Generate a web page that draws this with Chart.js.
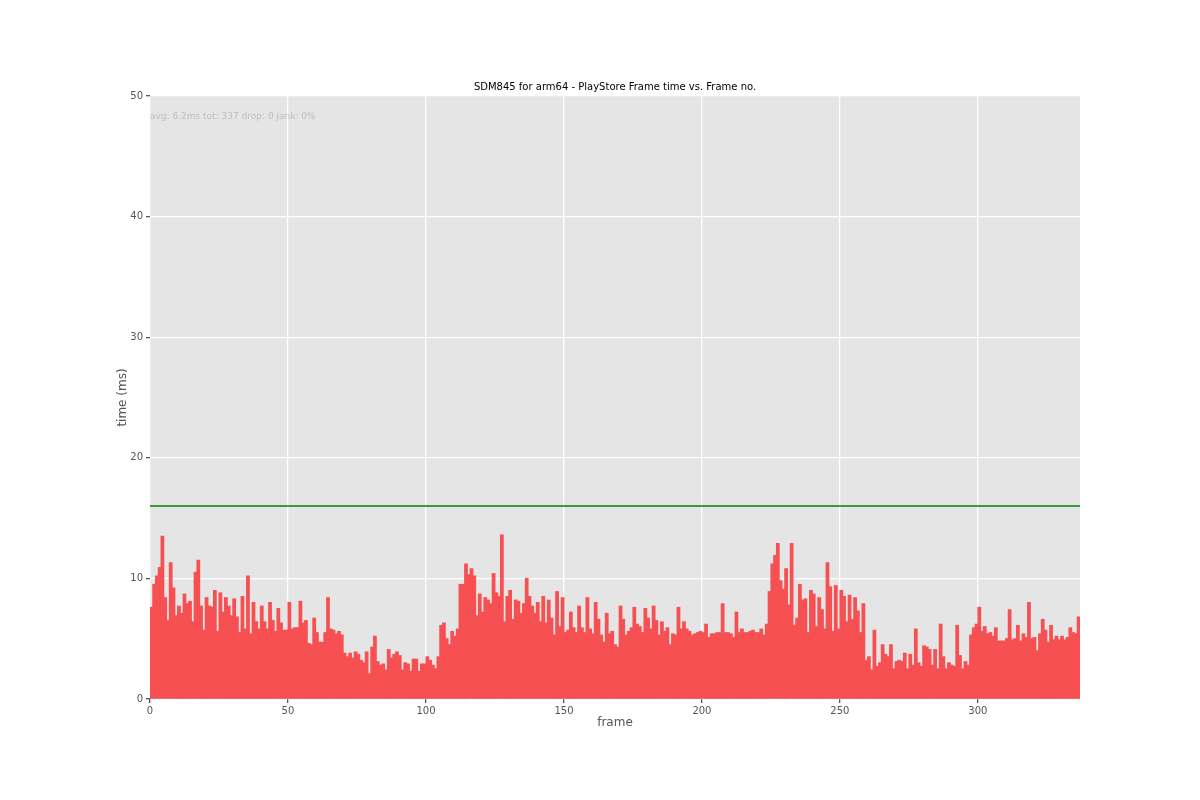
<!DOCTYPE html>
<html>
<head>
<meta charset="utf-8">
<title>SDM845 for arm64 - PlayStore Frame time vs. Frame no.</title>
<script src="https://cdn.jsdelivr.net/npm/chart.js@4.4.1/dist/chart.umd.min.js"></script>
<style>
  html, body { margin: 0; padding: 0; background: #fff; }
  #wrap { width: 1200px; height: 800px; }
</style>
</head>
<body>
<div id="wrap"><canvas id="frame-chart" width="1200" height="800"></canvas></div>
<script>
// Frame times (ms), one per frame
const frameTimes = [
  7.6, 9.5, 10.2, 10.9, 13.5, 8.4, 6.5, 11.3, 9.2, 6.9, 7.7, 7.1, 8.7, 7.9, 8.1, 6.4, 10.5, 11.5, 7.7, 5.7,
  8.4, 7.7, 7.6, 9.0, 5.6, 8.8, 7.2, 8.4, 7.7, 6.9, 8.3, 6.8, 5.5, 8.5,
  5.8, 10.2, 5.4, 8.0, 6.4, 5.8, 7.7, 6.4, 5.8, 8.0, 6.5, 5.6, 7.5, 6.3, 5.7, 5.7, 8.0, 5.8, 5.9, 5.9,
  8.1, 6.3, 6.5, 4.6, 4.5, 6.7, 5.5, 4.7, 4.7, 5.5, 8.4, 5.8, 5.7, 5.4,
  5.6, 5.3, 3.8, 3.5, 3.8, 3.4, 3.9, 3.7, 3.2, 3.0, 3.9, 2.1, 4.3, 5.2, 3.1, 2.8, 2.9, 2.4, 4.1, 3.4,
  3.7, 3.9, 3.6, 2.4, 3.0, 2.9, 2.3, 3.3, 3.3, 2.3, 2.9, 2.9, 3.5, 3.2,
  2.8, 2.5, 3.5, 6.1, 6.3, 5.0, 4.5, 5.6, 5.2, 5.8, 9.5, 9.5, 11.2, 10.3, 10.8, 10.2, 6.9, 8.7, 7.2, 8.4,
  8.2, 7.9, 10.4, 8.8, 8.5, 13.6, 6.4, 8.5, 9.0, 6.6, 8.2, 8.1, 7.1, 7.9,
  10.0, 8.5, 7.7, 7.1, 8.0, 6.4, 8.5, 6.3, 8.2, 6.7, 5.3, 8.9, 6.0, 8.4, 5.5, 5.7, 7.2, 5.9, 5.5, 7.7,
  5.9, 5.5, 8.4, 5.8, 5.4, 8.0, 6.6, 5.3, 4.7, 7.1, 5.4, 5.6, 4.5, 4.3,
  7.7, 6.6, 5.3, 5.6, 5.9, 7.6, 6.2, 6.0, 5.5, 7.5, 6.7, 5.8, 7.7, 6.5, 5.3, 6.4, 5.6, 5.9, 4.5, 5.4,
  5.3, 7.6, 5.8, 6.4, 5.8, 5.6, 5.3, 5.4, 5.5, 5.6, 5.5, 6.2, 5.1, 5.4,
  5.4, 5.5, 5.5, 7.9, 5.5, 5.5, 5.4, 5.1, 7.2, 5.5, 5.8, 5.5, 5.5, 5.6, 5.7, 5.5, 5.5, 5.8, 5.3, 6.2,
  8.9, 11.2, 11.9, 12.9, 9.8, 9.1, 10.8, 7.8, 12.9, 6.1, 6.7, 9.5, 8.2, 8.3,
  5.5, 9.0, 8.7, 6.0, 8.4, 7.4, 5.8, 11.3, 9.3, 5.6, 9.4, 5.8, 9.0, 8.5, 6.4, 8.6, 6.6, 8.4, 7.3, 5.5,
  7.9, 3.2, 3.5, 2.4, 5.7, 2.7, 3.0, 4.5, 3.7, 3.5, 4.5, 2.5, 3.1, 3.2,
  3.1, 3.8, 2.5, 3.7, 2.8, 5.8, 3.0, 2.7, 4.4, 4.3, 4.1, 2.8, 4.1, 2.5, 6.2, 3.5, 2.5, 3.0, 2.8, 2.7,
  6.1, 3.6, 2.5, 3.1, 2.8, 5.3, 5.9, 6.2, 7.6, 5.6, 6.0, 5.4, 5.5, 5.2,
  5.9, 4.8, 4.8, 4.8, 5.0, 7.4, 4.9, 5.0, 6.1, 4.8, 5.4, 5.1, 8.0, 5.0, 5.1, 4.0, 5.4, 6.6, 5.7, 4.7,
  6.1, 4.9, 5.2, 4.9, 5.2, 4.9, 5.1, 5.9, 5.5, 5.4, 6.8
];
const xTicks = [0, 50, 100, 150, 200, 250, 300];
const yTicks = [0, 10, 20, 30, 40, 50];
const jankLimit = 16;   // ms, green line
const statsText = 'avg: 6.2ms tot: 337 drop: 0 jank: 0%';
const titleText = 'SDM845 for arm64 - PlayStore Frame time vs. Frame no.';

const frameCount = frameTimes.length;
const barData = frameTimes.map((v, i) => ({ x: i + 0.5, y: v }));

// grey plot background like matplotlib's ggplot style
const plotBackground = {
  id: 'plotBackground',
  beforeDraw(chart) {
    const { ctx, chartArea: a } = chart;
    ctx.save();
    ctx.fillStyle = '#E5E5E5';
    ctx.fillRect(a.left, a.top, a.right - a.left, a.bottom - a.top);
    ctx.restore();
  }
};

// title, axis titles and the stats line
const textLabels = {
  id: 'textLabels',
  afterDraw(chart) {
    const { ctx, chartArea: a } = chart;
    ctx.save();
    ctx.textBaseline = 'middle';

    ctx.fillStyle = '#000';
    ctx.font = '10px "DejaVu Sans"';
    ctx.textAlign = 'center';
    ctx.fillText(titleText, (a.left + a.right) / 2, 87);

    ctx.fillStyle = '#555';
    ctx.font = '12px "DejaVu Sans"';
    ctx.fillText('frame', (a.left + a.right) / 2, 723);

    ctx.translate(123, (a.top + a.bottom) / 2);
    ctx.rotate(-Math.PI / 2);
    ctx.fillText('time (ms)', 0, 0);
    ctx.restore();

    ctx.save();
    ctx.fillStyle = '#BDBDBD';
    ctx.font = '9px "DejaVu Sans"';
    ctx.textAlign = 'left';
    ctx.textBaseline = 'middle';
    ctx.fillText(statsText, a.left, 117);
    ctx.restore();
  }
};

Chart.defaults.font.family = '"DejaVu Sans", sans-serif';

const frameChart = new Chart(document.getElementById('frame-chart'), {
  type: 'bar',
  data: {
    datasets: [{
      type: 'line',
      data: [{ x: 0, y: jankLimit }, { x: frameCount, y: jankLimit }],
      borderColor: '#008000',
      borderWidth: 1.5,
      pointRadius: 0,
      order: 0
    }, {
      type: 'bar',
      data: barData,
      backgroundColor: '#F65052',
      borderWidth: 0,
      inflateAmount: 0.5,
      barPercentage: 1,
      categoryPercentage: 1,
      order: 1
    }]
  },
  options: {
    responsive: false,
    animation: false,
    events: [],
    layout: { padding: { left: 0, top: 96, right: 120, bottom: 0 } },
    plugins: {
      legend: { display: false },
      tooltip: { enabled: false }
    },
    scales: {
      x: {
        type: 'linear',
        offset: false,
        min: 0,
        max: frameCount,
        afterBuildTicks: s => { s.ticks = xTicks.map(v => ({ value: v })); },
        afterFit: s => { s.height = 101; },
        ticks: { color: '#555', font: { size: 10 }, padding: 2, maxRotation: 0, autoSkip: false },
        grid: { offset: false, color: '#FFFFFF', lineWidth: 1.3, tickColor: '#555', tickLength: 4 },
        border: { display: false }
      },
      y: {
        min: 0,
        max: 50,
        afterBuildTicks: s => { s.ticks = yTicks.map(v => ({ value: v })); },
        afterFit: s => { s.width = 150; },
        ticks: { color: '#555', font: { size: 10 }, padding: 3 },
        grid: { color: '#FFFFFF', lineWidth: 1.3, tickColor: '#555', tickLength: 4 },
        border: { display: false }
      }
    }
  },
  plugins: [plotBackground, textLabels]
});
</script>
</body>
</html>
